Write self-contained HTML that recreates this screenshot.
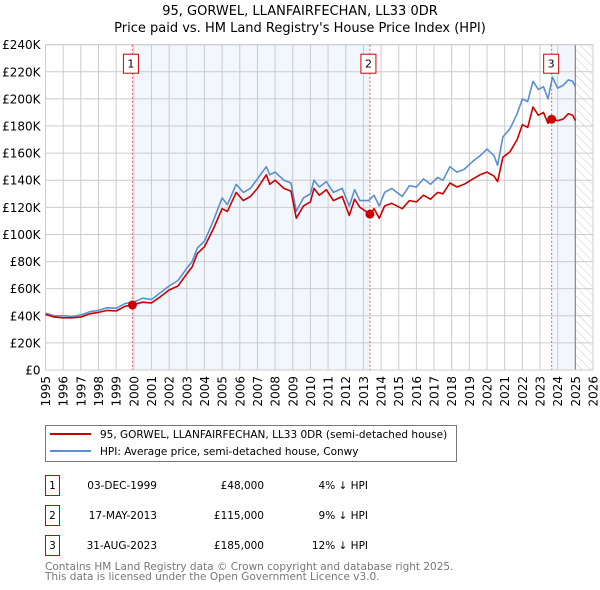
<!DOCTYPE html>
<html><head><meta charset="utf-8"><style>
body{margin:0;background:#fff}
svg{display:block;font-family:"DejaVu Sans","Liberation Sans",sans-serif}
</style></head><body>
<svg id="chart" width="600" height="590" viewBox="0 0 600 590">
<defs><pattern id="hatch" width="6" height="6" patternUnits="userSpaceOnUse" patternTransform="rotate(-45)"><line x1="0" y1="0" x2="0" y2="6" stroke="#ccc" stroke-width="1"/></pattern></defs>
<text x="300" y="15" text-anchor="middle" font-size="13">95, GORWEL, LLANFAIRFECHAN, LL33 0DR</text>
<text x="300" y="32" text-anchor="middle" font-size="13">Price paid vs. HM Land Registry's House Price Index (HPI)</text>
<g id="plot"></g>
<g>
<rect x="45.5" y="425.5" width="411" height="36" fill="#fff" stroke="#777"/>
<line x1="50" y1="434" x2="91" y2="434" stroke="#cc0000" stroke-width="2"/>
<text x="100" y="438" font-size="10.5">95, GORWEL, LLANFAIRFECHAN, LL33 0DR (semi-detached house)</text>
<line x1="50" y1="451" x2="91" y2="451" stroke="#5b8fd0" stroke-width="2"/>
<text x="100" y="455" font-size="10.5">HPI: Average price, semi-detached house, Conwy</text>
</g>
<g font-size="10.5">
<g><rect x="45.5" y="475.5" width="14" height="20" fill="#fff" stroke="#cc0000"/><text x="52.5" y="489" text-anchor="middle">1</text><text x="157" y="489" text-anchor="end">03-DEC-1999</text><text x="264" y="489" text-anchor="end">£48,000</text><text x="368" y="489" text-anchor="end">4% ↓ HPI</text></g>
<g><rect x="45.5" y="505.5" width="14" height="20" fill="#fff" stroke="#cc0000"/><text x="52.5" y="519" text-anchor="middle">2</text><text x="157" y="519" text-anchor="end">17-MAY-2013</text><text x="264" y="519" text-anchor="end">£115,000</text><text x="368" y="519" text-anchor="end">9% ↓ HPI</text></g>
<g><rect x="45.5" y="535.5" width="14" height="20" fill="#fff" stroke="#cc0000"/><text x="52.5" y="549" text-anchor="middle">3</text><text x="157" y="549" text-anchor="end">31-AUG-2023</text><text x="264" y="549" text-anchor="end">£185,000</text><text x="368" y="549" text-anchor="end">12% ↓ HPI</text></g>
</g>
<text x="45" y="570" font-size="10.5" fill="#777">Contains HM Land Registry data © Crown copyright and database right 2025.</text>
<text x="45" y="580" font-size="10.5" fill="#777">This data is licensed under the Open Government Licence v3.0.</text>
</svg>
<script>
const hpiYears=[1995,1995.5,1996,1996.5,1997,1997.5,1998,1998.5,1999,1999.5,2000,2000.5,2001,2001.5,2002,2002.5,2003,2003.3,2003.6,2004,2004.5,2005,2005.3,2005.8,2006.2,2006.6,2007,2007.5,2007.7,2008,2008.5,2008.9,2009.2,2009.6,2010,2010.2,2010.5,2010.9,2011.3,2011.8,2012.2,2012.5,2012.8,2013.3,2013.6,2013.9,2014.2,2014.6,2015.2,2015.6,2016,2016.4,2016.8,2017.2,2017.5,2017.9,2018.3,2018.7,2019.2,2019.6,2020,2020.4,2020.6,2020.9,2021.3,2021.7,2022,2022.3,2022.6,2022.9,2023.2,2023.45,2023.7,2024,2024.3,2024.6,2024.85,2025];
const hpiValues=[42,40,40,39.5,40.5,43,44,46,45.5,49,50,53,52,57,62,66,75,80,90,95,110,127,122,137,131,134,141,150,144,146,140,138,117,127,130,140,135,139,131,134,121,133,125,125,129,121,131,134,128,136,135,141,137,142,140,150,146,148,154,158,163,158,151,172,178,189,200,198,213,207,209,200,216,208,210,214,213,209];
const priceYears=[1995,1995.5,1996,1996.5,1997,1997.5,1998,1998.5,1999,1999.5,1999.92,2000.5,2001,2001.5,2002,2002.5,2003,2003.3,2003.6,2004,2004.5,2005,2005.3,2005.8,2006.2,2006.6,2007,2007.5,2007.7,2008,2008.5,2008.9,2009.2,2009.6,2010,2010.2,2010.5,2010.9,2011.3,2011.8,2012.2,2012.5,2012.8,2013.37,2013.6,2013.9,2014.2,2014.6,2015.2,2015.6,2016,2016.4,2016.8,2017.2,2017.5,2017.9,2018.3,2018.7,2019.2,2019.6,2020,2020.4,2020.6,2020.9,2021.3,2021.7,2022,2022.3,2022.6,2022.9,2023.2,2023.45,2023.66,2024,2024.3,2024.6,2024.85,2025];
const priceValues=[41,39,38.5,38.5,39,41.5,42.5,44,43.5,47,48,50,49.5,54,59,62,71,76,86,91,104,119,117,131,125,128,134,144,137,140,134,132,112,121,124,134,129,133,125,128,114,126,120,115,119,112,121,123,119,125,124,129,126,131,130,138,135,137,141,144,146,143,139,157,161,170,181,179,194,188,190,182,185,184,185,189,188,184];
const saleYears=[1999.92,2013.37,2023.66];
const saleValues=[48,115,185];
const saleLabels=["1","2","3"];
const yTicks=[0,20,40,60,80,100,120,140,160,180,200,220,240];
const xTicks=[1995,1996,1997,1998,1999,2000,2001,2002,2003,2004,2005,2006,2007,2008,2009,2010,2011,2012,2013,2014,2015,2016,2017,2018,2019,2020,2021,2022,2023,2024,2025,2026];

const L=45.5,R=593,T=44.7,B=370,X0=1995,X1=2026,YMAX=240,DATA_END=2025;
const NS="http://www.w3.org/2000/svg";
const x=v=>L+(v-X0)/(X1-X0)*(R-L);
const y=v=>B-v/YMAX*(B-T);
const g=document.getElementById('plot');
function mk(tag,attrs,parent){const e=document.createElementNS(NS,tag);for(const k in attrs)e.setAttribute(k,attrs[k]);(parent||g).appendChild(e);return e;}

for(let i=0;i<saleYears.length;i++){
  if(i===1)continue;
  const end=i+1<saleYears.length?saleYears[i+1]:DATA_END;
  const r=mk('rect',{x:x(saleYears[i]),y:T,width:x(end)-x(saleYears[i]),height:B-T,fill:'#edf2fc',opacity:0.7});
  
  
}
const h=mk('rect',{x:x(DATA_END),y:T,width:R-x(DATA_END),height:B-T,fill:'url(#hatch)'});



yTicks.forEach(t=>{
  const ln=mk('line',{x1:L,x2:R,y1:y(t),y2:y(t),stroke:'#ccc','stroke-width':1});
  
  
  const tx=mk('text',{x:L-5,y:y(t)+4.5,'text-anchor':'end','font-size':12});
  
  
  tx.textContent=t===0?'£0':'£'+t+'K';
});
xTicks.forEach(t=>{
  const ln=mk('line',{x1:x(t),x2:x(t),y1:T,y2:B,stroke:'#ccc','stroke-width':1});
  
  
  const tx=mk('text',{x:0,y:0,'text-anchor':'end','font-size':12,transform:`translate(${x(t)+4.5},${B+6}) rotate(-90)`});
  
  
  tx.textContent=t;
});
const dl=mk('line',{x1:x(DATA_END),x2:x(DATA_END),y1:T,y2:B,stroke:'#888','stroke-width':1.2});


const fr=mk('rect',{x:L,y:T,width:R-L,height:B-T,fill:'none',stroke:'#ccc'});



saleYears.forEach((s,i)=>{
  const ln=mk('line',{x1:x(s),x2:x(s),y1:T,y2:B,stroke:'#e06060','stroke-width':1,'stroke-dasharray':'2,2'});
  
  
});

function path(xs,vs,color,name){
  const d=xs.map((t,i)=>(i?'L':'M')+x(t).toFixed(1)+','+y(vs[i]).toFixed(1)).join('');
  const p=mk('path',{d,fill:'none',stroke:color,'stroke-width':1.6,'stroke-linejoin':'round'});
  
  
}
path(hpiYears,hpiValues,'#5b8fd0','hpi-line');
path(priceYears,priceValues,'#cc0000','property-price-line');

saleYears.forEach((s,i)=>{
  const c=mk('circle',{cx:x(s),cy:y(saleValues[i]),r:4.5,fill:'#cc0000'});
  
  
  const bx=x(s)-7-(i===2?0:1);
  const r=mk('rect',{x:bx-1,y:T+9.5,width:15,height:19,fill:'#fff',stroke:'#cc0000'});
  
  
  const t=mk('text',{x:bx+6.5,y:T+23,'text-anchor':'middle','font-size':11});
  
  
  t.textContent=saleLabels[i];
});
</script>
</body></html>
